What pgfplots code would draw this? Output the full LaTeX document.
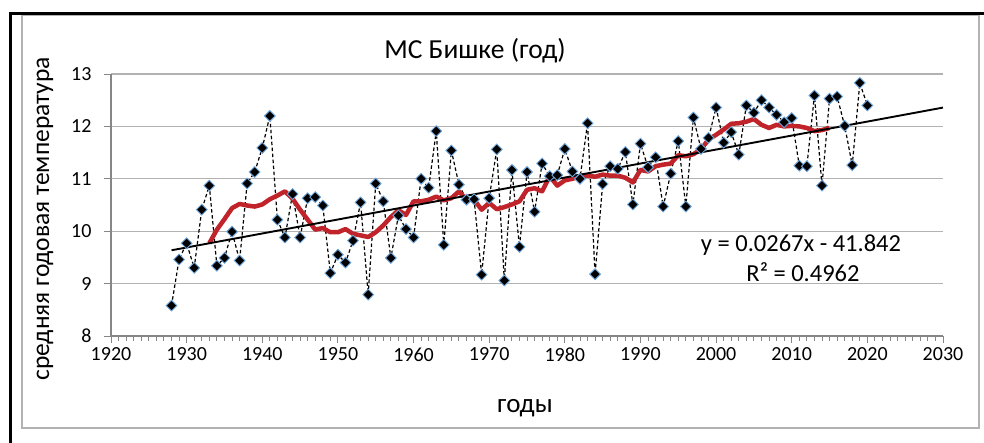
\documentclass[border=0pt]{standalone}
\usepackage{fontspec}
\setmainfont{Carlito}
\usepackage{pgfplots}
\usepackage{pgfplotstable}
\pgfplotsset{compat=1.18}
\definecolor{gridgray}{RGB}{178,178,178}
\definecolor{axgray}{RGB}{134,134,134}
\definecolor{mared}{RGB}{192,36,42}
\definecolor{mkblue}{RGB}{110,165,220}

\pgfplotstableread{
year val
1928 8.58
1929 9.46
1930 9.77
1931 9.30
1932 10.41
1933 10.87
1934 9.34
1935 9.49
1936 9.99
1937 9.44
1938 10.91
1939 11.13
1940 11.59
1941 12.20
1942 10.22
1943 9.88
1944 10.71
1945 9.88
1946 10.63
1947 10.65
1948 10.49
1949 9.20
1950 9.55
1951 9.40
1952 9.82
1953 10.55
1954 8.79
1955 10.91
1956 10.57
1957 9.49
1958 10.30
1959 10.04
1960 9.88
1961 11.00
1962 10.83
1963 11.91
1964 9.74
1965 11.54
1966 10.89
1967 10.60
1968 10.61
1969 9.17
1970 10.63
1971 11.56
1972 9.06
1973 11.17
1974 9.70
1975 11.13
1976 10.37
1977 11.29
1978 11.05
1979 11.07
1980 11.57
1981 11.14
1982 11.00
1983 12.06
1984 9.18
1985 10.90
1986 11.24
1987 11.19
1988 11.51
1989 10.51
1990 11.67
1991 11.22
1992 11.41
1993 10.47
1994 11.10
1995 11.72
1996 10.47
1997 12.17
1998 11.57
1999 11.78
2000 12.36
2001 11.69
2002 11.89
2003 11.46
2004 12.40
2005 12.26
2006 12.50
2007 12.36
2008 12.22
2009 12.08
2010 12.16
2011 11.25
2012 11.24
2013 12.59
2014 10.87
2015 12.53
2016 12.57
2017 12.01
2018 11.26
2019 12.83
2020 12.40
}\temps

\pgfplotstableread{
year ma
1933 9.77
1934 10.03
1935 10.23
1936 10.44
1937 10.52
1938 10.49
1939 10.47
1940 10.51
1941 10.61
1942 10.68
1943 10.76
1944 10.62
1945 10.41
1946 10.22
1947 10.03
1948 10.06
1949 9.98
1950 9.98
1951 10.04
1952 9.95
1953 9.92
1954 9.89
1955 9.98
1956 10.11
1957 10.27
1958 10.40
1959 10.31
1960 10.57
1961 10.57
1962 10.60
1963 10.66
1964 10.59
1965 10.63
1966 10.76
1967 10.60
1968 10.60
1969 10.41
1970 10.54
1971 10.42
1972 10.46
1973 10.51
1974 10.57
1975 10.79
1976 10.82
1977 10.76
1978 11.05
1979 10.87
1980 10.97
1981 11.00
1982 11.05
1983 11.06
1984 11.04
1985 11.08
1986 11.06
1987 11.06
1988 11.02
1989 10.93
1990 11.17
1991 11.14
1992 11.24
1993 11.27
1994 11.29
1995 11.45
1996 11.43
1997 11.47
1998 11.56
1999 11.75
2000 11.84
2001 11.94
2002 12.05
2003 12.06
2004 12.09
2005 12.14
2006 12.03
2007 11.97
2008 12.03
2009 12.00
2010 12.01
2011 12.00
2012 11.97
2013 11.91
2014 11.93
2015 11.97
}\mavg

\begin{document}
\begin{tikzpicture}[x=1pt,y=1pt]
\path[use as bounding box] (0,0) rectangle (984,443);
\draw[gridgray, line width=1.3pt] (22,15) rectangle (979,428);
\draw[black, line width=3pt] (10,0) -- (10,429) -- (984,429);
\begin{axis}[
  at={(111pt,107pt)}, anchor=south west,
  scale only axis, width=832pt, height=262pt,
  xmin=1920, xmax=2030, ymin=8, ymax=13,
  axis x line*=bottom, axis y line*=left,
  axis line style={axgray, line width=1.2pt},
  xtick={1920,1930,...,2030}, minor x tick num=9,
  ytick={8,9,...,13},
  tick align=outside,
  major tick length=7pt, minor tick length=5pt,
  every tick/.style={axgray, line width=0.9pt},
  ymajorgrids, major grid style={gridgray, line width=1.2pt},
  xticklabels={1920,1930,1940,1950,1960,1970,1980,1990,2000,2010,2020,2030},
  yticklabels={8,9,10,11,12,13},
  xticklabel style={font=\fontsize{20}{20}\selectfont, text=black, yshift=-1pt},
  yticklabel style={font=\fontsize{20}{20}\selectfont, text=black, xshift=-9pt},
  clip=false,
]
\addplot[black, line width=1.2pt, dash pattern=on 3.5pt off 2.5pt,
  mark=square*, mark size=3.8pt,
  mark options={solid, rotate=45, fill=black, draw=mkblue, line width=0.9pt}]
  table[x=year, y=val] {\temps};
\addplot[mared, line width=4.5pt, no marks, line join=round] table[x=year, y=ma] {\mavg};
\addplot[black, line width=1.9pt, no marks] coordinates {(1928,9.636) (2030,12.359)};
\end{axis}
\node[font=\fontsize{27.5}{27.5}\selectfont] at (475,392) {МС Бишке (год)};
\node[rotate=90, font=\fontsize{25.5}{25.5}\selectfont] at (45,224) {средняя годовая температура};
\node[font=\fontsize{27}{27}\selectfont] at (525,35) {годы};
\node[font=\fontsize{24.5}{24.5}\selectfont] at (801,198) {y = 0.0267x - 41.842};
\node[font=\fontsize{24.5}{24.5}\selectfont] at (803,171) {R² = 0.4962};
\end{tikzpicture}
\end{document}
